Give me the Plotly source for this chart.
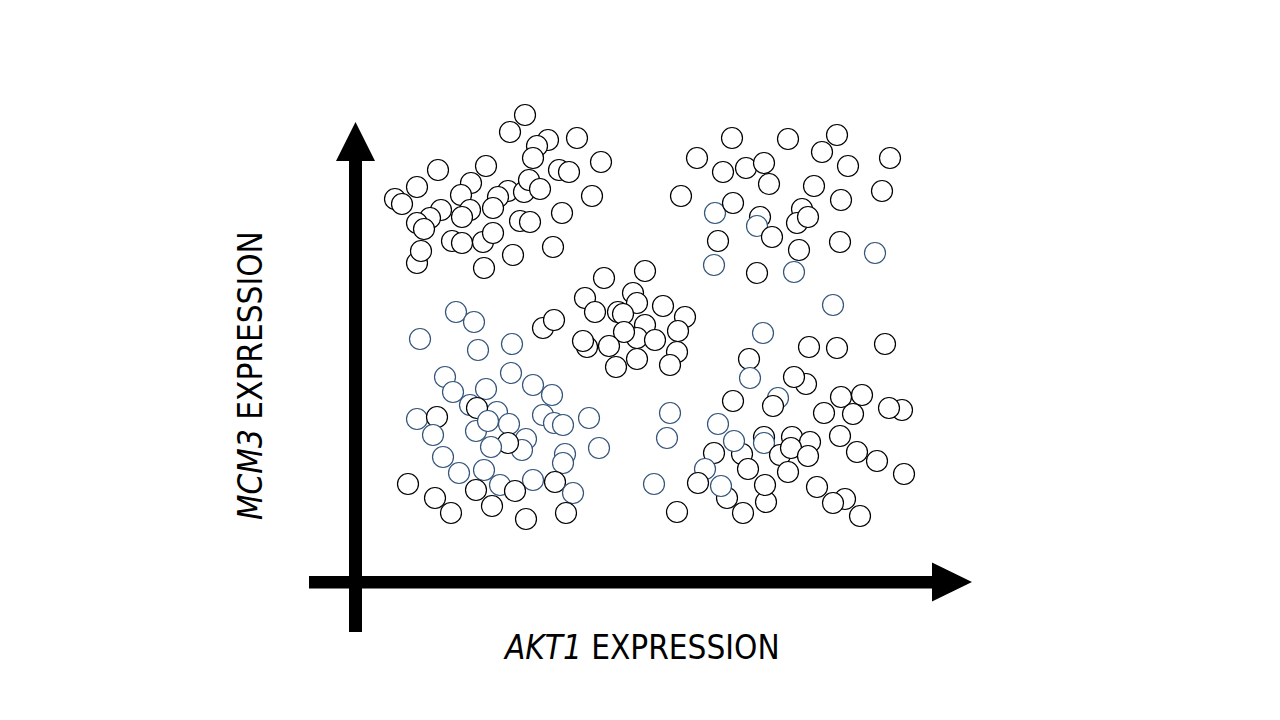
import plotly.graph_objects as go

# AKT1 expression (x) and MCM3 expression (y), arbitrary units from the axis origin
akt1 = [
    # upper-left group
    40, 47, 62, 83, 131, 155, 170, 193, 182, 178, 222, 246, 204, 214, 237, 207, 198, 158, 129, 62,
    66, 97, 107, 128, 138, 165, 175, 116, 106, 153, 143, 169, 174, 185, 138, 115, 107, 86, 75, 62, 69,
    # upper-right group
    360, 377, 433, 482, 467, 342, 368, 391, 409, 414, 493, 535, 459, 326, 378, 405, 402, 417, 447, 442,
    453, 486, 527, 363, 444, 485, 359, 402, 439, 520,
    # centre group
    249, 290, 230, 240, 278, 282, 263, 268, 308, 330, 290, 322, 323, 282, 269, 300, 232, 228, 254, 282,
    261, 315, 188, 199,
    # lower-left group
    101, 119, 65, 123, 157, 90, 98, 156, 131, 178, 197, 115, 142, 122, 62, 82, 78, 121, 133, 154,
    188, 199, 208, 234, 171, 167, 153, 136, 88, 244, 210, 208, 104, 129, 145, 178, 200, 218, 53, 80,
    96, 121, 137, 160, 171, 211,
    # lower-right group
    478, 408, 454, 482, 530, 394, 395, 451, 439, 378, 423, 418, 486, 507, 469, 547, 534, 498, 315, 312,
    363, 409, 437, 455, 485, 359, 387, 379, 409, 425, 436, 453, 502, 522, 549, 350, 343, 393, 433, 411,
    410, 372, 366, 462, 490, 478, 505, 388, 322, 299,
]

mcm3 = [
    383, 378, 395, 412, 416, 450, 467, 442, 436, 424, 444, 420, 412, 410, 386, 369, 335, 327, 314, 319,
    331, 341, 339, 340, 349, 361, 360, 399, 387, 391, 385, 390, 402, 393, 374, 372, 365, 372, 364, 359, 353,
    369, 444, 443, 447, 430, 424, 410, 414, 419, 398, 416, 424, 396, 386, 379, 365, 356, 345, 373, 359,
    365, 382, 391, 341, 332, 340, 317, 309, 310, 329,
    304, 311, 284, 270, 289, 279, 270, 268, 276, 265, 257, 230, 251, 244, 250, 242, 235, 241, 236, 223,
    215, 217, 254, 262,
    270, 260, 243, 232, 238, 205, 190, 209, 193, 197, 187, 177, 170, 174, 163, 165, 147, 151, 161, 158,
    167, 159, 157, 164, 143, 132, 139, 135, 125, 134, 128, 119, 109, 112, 97, 102, 100, 89, 98, 84,
    69, 92, 76, 91, 63, 69,
    277, 249, 235, 234, 238, 223, 204, 198, 205, 181, 184, 176, 185, 187, 169, 172, 174, 168, 169, 144,
    158, 145, 145, 140, 146, 129, 128, 141, 139, 127, 134, 126, 130, 121, 108, 113, 99, 113, 110, 80,
    97, 84, 96, 95, 83, 79, 66, 69, 70, 98,
]

# outline class of each cell: "k" = black outline, "b" = blue outline
kind = (
    ["k"] * 41
    + ["b"] + ["k"] * 15 + ["b"] + ["k"] * 9 + ["b", "k", "b", "b"]
    + ["k"] * 24
    + ["b"] * 13 + ["k", "b", "k"] + ["b"] * 10 + ["k"] + ["b"] * 9 + ["k", "b"] + ["k"] * 8
    + ["b", "b", "k", "k", "k", "k", "b", "k", "k", "k", "b", "k", "k", "k", "k", "k", "k", "k",
       "b", "b", "b", "k", "k", "k", "k", "k", "k", "b", "b", "k", "k", "k", "k", "k", "k", "b",
       "k", "k", "k", "k", "k", "k", "b", "k", "k", "k", "k", "k", "k", "b"]
)

palette = {"k": "#000000", "b": "#34557a"}
line_colors = [palette[c] for c in kind]

fig = go.Figure()
fig.add_trace(go.Scatter(
    x=akt1, y=mcm3, mode="markers",
    marker=dict(size=21, color="white", line=dict(color=line_colors, width=1.2)),
    hoverinfo="skip", showlegend=False,
))

# thick arrow axes
shapes = [
    dict(type="rect", xref="x", yref="y", x0=-6, x1=7, y0=-50, y1=423,
         fillcolor="black", line=dict(width=0), layer="above"),
    dict(type="path", xref="x", yref="y", path="M -19 421 L 20 421 L 0.5 460 Z",
         fillcolor="black", line=dict(width=0), layer="above"),
    dict(type="rect", xref="x", yref="y", x0=-46, x1=579, y0=-6.5, y1=6,
         fillcolor="black", line=dict(width=0), layer="above"),
    dict(type="path", xref="x", yref="y", path="M 577 19.5 L 577 -19.5 L 617 0 Z",
         fillcolor="black", line=dict(width=0), layer="above"),
]

label_font = dict(family="Liberation Sans Narrow, DejaVu Sans Condensed, Roboto Condensed, Liberation Sans",
                  size=33, color="black")

# the page body adds an 8px offset; ranges and label positions compensate for it
off = 8
fig.update_layout(
    width=1280, height=720,
    margin=dict(l=0, r=0, t=0, b=0),
    paper_bgcolor="white", plot_bgcolor="white",
    xaxis=dict(range=[-355 + off, 925 + off], visible=False, fixedrange=True),
    yaxis=dict(range=[-138 - off, 582 - off], visible=False, fixedrange=True),
    shapes=shapes,
    annotations=[
        dict(text="<i>AKT1</i> EXPRESSION", xref="paper", yref="paper",
             x=(641 - off) / 1280, y=1 - (647 - off) / 720, xanchor="center", yanchor="middle",
             showarrow=False, font=label_font),
        dict(text="<i>MCM3</i> EXPRESSION", xref="paper", yref="paper",
             x=(250 - off) / 1280, y=1 - (376 - off) / 720, xanchor="center", yanchor="middle",
             textangle=-90, showarrow=False, font=label_font),
    ],
)

fig.write_html("out.html")
